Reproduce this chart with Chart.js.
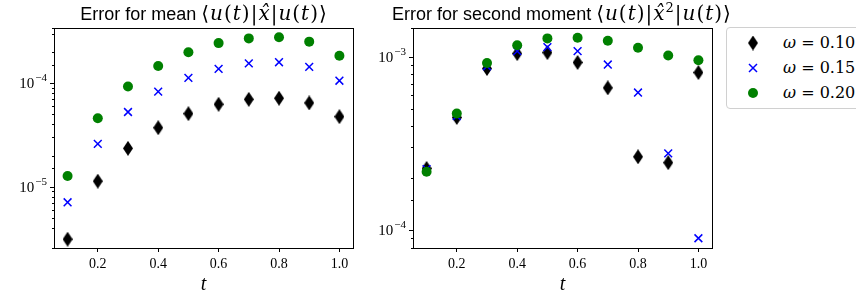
<!DOCTYPE html>
<html>
<head>
<meta charset="utf-8">
<script src="https://cdn.jsdelivr.net/npm/chart.js@4.4.1/dist/chart.umd.min.js"></script>
<style>
body{margin:0;background:#fff;}
#wrap{position:relative;width:856px;height:300px;overflow:hidden;background:#fff;}
#wrap canvas.plot{position:absolute;top:0;}
.ttl{position:absolute;top:4px;line-height:18px;font-family:"Liberation Sans",sans-serif;font-size:18px;white-space:nowrap;transform:translateX(-50%);color:#000;}
.m{font-family:"DejaVu Serif",serif;font-size:20px;letter-spacing:1px;}
.m sup{font-size:13px;line-height:0;vertical-align:8px;}
#legend{position:absolute;left:726px;top:27px;width:140px;height:80px;border:1px solid #d0d0d0;border-radius:4px;background:#fff;}
#legend canvas{position:absolute;left:0;top:0;}
.row{position:absolute;left:56px;font-family:"DejaVu Serif",serif;font-size:16px;line-height:20px;white-space:nowrap;}
</style>
</head>
<body>
<div id="wrap">
  <canvas id="meanChart" class="plot" width="360" height="300" style="left:0px"></canvas>
  <canvas id="momChart" class="plot" width="360" height="300" style="left:360px"></canvas>
  <div class="ttl" style="left:204px">Error for mean <span class="m">⟨<i>u</i>(<i>t</i>)|<i>x̂</i>|<i>u</i>(<i>t</i>)⟩</span></div>
  <div class="ttl" style="left:562px">Error for second moment <span class="m">⟨<i>u</i>(<i>t</i>)|<i>x̂</i><sup>2</sup>|<i>u</i>(<i>t</i>)⟩</span></div>
  <div id="legend">
    <canvas id="legendMarks" width="50" height="80"></canvas>
    <div class="row" style="top:5px"><i>ω</i> = 0.10</div>
    <div class="row" style="top:30px"><i>ω</i> = 0.15</div>
    <div class="row" style="top:55px"><i>ω</i> = 0.20</div>
  </div>
</div>
<script>
'use strict'

// time points
let tValues=[0.1,0.2,0.3,0.4,0.5,0.6,0.7,0.8,0.9,1.0];

// error for mean <u|x|u>
let meanW010=[3.1e-6,1.13e-5,2.35e-5,3.72e-5,5.09e-5,6.27e-5,7.0e-5,7.18e-5,6.46e-5,4.76e-5];
let meanW015=[7.06e-6,2.59e-5,5.28e-5,8.3e-5,1.13e-4,1.38e-4,1.56e-4,1.6e-4,1.44e-4,1.06e-4];
let meanW020=[1.27e-5,4.59e-5,9.3e-5,1.47e-4,2.0e-4,2.45e-4,2.72e-4,2.79e-4,2.53e-4,1.85e-4];

// error for second moment <u|x^2|u>
let momW010=[2.27e-4,4.47e-4,8.57e-4,1.046e-3,1.06e-3,9.29e-4,6.63e-4,2.65e-4,2.45e-4,8.13e-4];
let momW015=[2.25e-4,4.55e-4,8.84e-4,1.08e-3,1.14e-3,1.08e-3,9.04e-4,6.23e-4,2.77e-4,8.96e-5];
let momW020=[2.17e-4,4.71e-4,9.23e-4,1.168e-3,1.28e-3,1.29e-3,1.24e-3,1.13e-3,1.02e-3,9.57e-4];

let omegaLabels=['0.10','0.15','0.20'];

// axis limits
let tRange=[0.055,1.045];
let meanRange=[2.55e-6,3.43e-4];
let momRange=[7.87e-5,1.47e-3];

function decade(v){
    let e=Math.log10(v);
    if(Math.abs(e-Math.round(e))>1e-6) return null;
    return Math.round(e);
}

function thinDiamond(w,h){
    let c=document.createElement('canvas');
    c.width=w;c.height=h;
    let g=c.getContext('2d');
    g.fillStyle='#000';
    g.beginPath();
    g.moveTo(w/2,0);g.lineTo(w,h/2);g.lineTo(w/2,h);g.lineTo(0,h/2);
    g.closePath();
    g.fill();
    return c;
}
let diamondImg=thinDiamond(10,15);

// box around plot + y ticks and 10^n labels
let framePlugin={
    id:'frame',
    afterDraw(chart){
        let a=chart.chartArea;
        let ctx=chart.ctx;
        let ys=chart.scales.y;
        ctx.save();
        ctx.strokeStyle='#000';
        ctx.fillStyle='#000';
        ctx.lineWidth=1;
        ctx.beginPath();
        ys.ticks.forEach(tk=>{
            let p=Math.round(ys.getPixelForValue(tk.value))+0.5;
            let len=decade(tk.value)!==null?4:2;
            ctx.moveTo(a.left,p);ctx.lineTo(a.left-len,p);
        });
        ctx.stroke();
        ys.ticks.forEach(tk=>{
            let e=decade(tk.value);
            if(e===null) return;
            let p=ys.getPixelForValue(tk.value);
            let ex='\u2212'+Math.abs(e);
            ctx.font='11px "Liberation Serif", serif';
            let exW=ctx.measureText(ex).width;
            let xr=a.left-7;
            ctx.textBaseline='alphabetic';
            ctx.textAlign='left';
            ctx.fillText(ex,xr-exW,p-2);
            ctx.font='15px "Liberation Serif", serif';
            ctx.textAlign='right';
            ctx.fillText('10',xr-exW-1,p+5);
        });
        ctx.strokeRect(Math.round(a.left)+0.5,Math.round(a.top)+0.5,Math.round(a.right-a.left),Math.round(a.bottom-a.top));
        ctx.restore();
    }
};

function points(vals){
    return tValues.map((t,i)=>({x:t,y:vals[i]}));
}

function makeChart(id,series,yRange,yWidth,padRight){
    let tickFont={family:'"Liberation Serif", serif',size:14};
    return new Chart(document.getElementById(id),{
        type:'scatter',
        data:{datasets:[
            {label:omegaLabels[0],data:points(series[0]),pointStyle:diamondImg,order:3},
            {label:omegaLabels[1],data:points(series[1]),pointStyle:'crossRot',pointRadius:5.5,borderColor:'#0000ff',borderWidth:1.5,order:2},
            {label:omegaLabels[2],data:points(series[2]),pointStyle:'circle',pointRadius:5,backgroundColor:'#008000',borderColor:'#008000',borderWidth:0,order:1}
        ]},
        options:{
            responsive:false,
            animation:false,
            events:[],
            layout:{padding:{top:28,right:padRight,bottom:0,left:0}},
            plugins:{legend:{display:false},tooltip:{enabled:false},title:{display:false}},
            scales:{
                x:{
                    type:'linear',min:tRange[0],max:tRange[1],
                    border:{display:false},
                    grid:{display:true,drawOnChartArea:false,drawTicks:true,tickLength:4,tickColor:'#000'},
                    ticks:{stepSize:0.2,includeBounds:false,color:'#000',font:tickFont,padding:4,maxRotation:0,
                        callback:v=>v.toFixed(1)},
                    title:{display:true,text:'t',color:'#000',font:{family:'"Liberation Serif", serif',size:20,style:'italic'},padding:{top:0,bottom:3}},
                    afterFit:s=>{s.height=52;}
                },
                y:{
                    type:'logarithmic',min:yRange[0],max:yRange[1],
                    border:{display:false},
                    grid:{display:false},
                    ticks:{autoSkip:false,callback:()=>''},
                    afterFit:s=>{s.width=yWidth;}
                }
            }
        },
        plugins:[framePlugin]
    });
}

makeChart('meanChart',[meanW010,meanW015,meanW020],meanRange,54,7);
makeChart('momChart',[momW010,momW015,momW020],momRange,53,8);

// legend markers
let lg=document.getElementById('legendMarks').getContext('2d');
let rowY=[15,40,65];
lg.drawImage(diamondImg,26-5,rowY[0]-7.5);
lg.strokeStyle='#0000ff';lg.lineWidth=1.5;
lg.beginPath();
lg.moveTo(22,rowY[1]-4);lg.lineTo(30,rowY[1]+4);
lg.moveTo(30,rowY[1]-4);lg.lineTo(22,rowY[1]+4);
lg.stroke();
lg.fillStyle='#008000';
lg.beginPath();lg.arc(26,rowY[2],5,0,Math.PI*2);lg.fill();
</script>
</body>
</html>
